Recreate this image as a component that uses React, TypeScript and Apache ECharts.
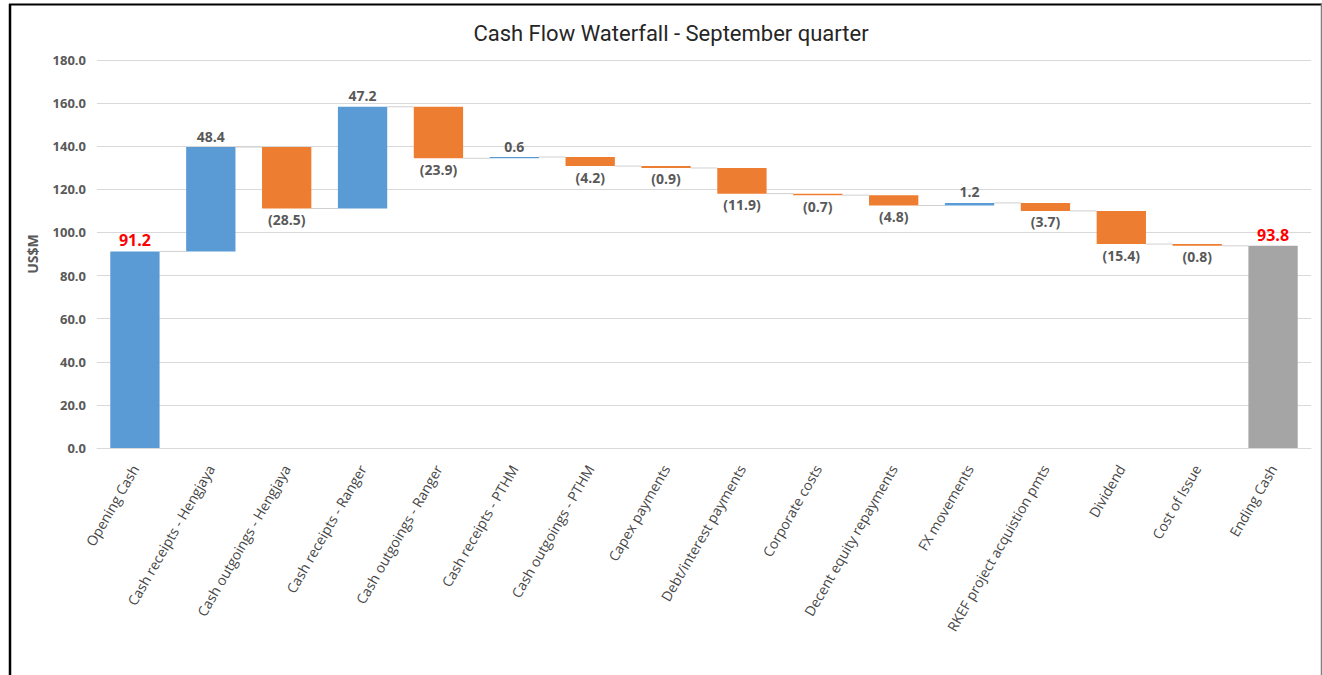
import React, { useEffect, useRef } from "react";
import * as echarts from "echarts";

const categories = [
  "Opening Cash",
  "Cash receipts - Hengjaya",
  "Cash outgoings - Hengjaya",
  "Cash receipts - Ranger",
  "Cash outgoings - Ranger",
  "Cash receipts - PTHM",
  "Cash outgoings - PTHM",
  "Capex payments",
  "Debt/interest payments",
  "Corporate costs",
  "Decent equity repayments",
  "FX movements",
  "RKEF project acquistion pmts",
  "Dividend",
  "Cost of Issue",
  "Ending Cash",
];

const openingCash = 91.2;
const endingCash = 93.8;
const movements = [48.4, -28.5, 47.2, -23.9, 0.6, -4.2, -0.9, -11.9, -0.7, -4.8, 1.2, -3.7, -15.4, -0.8];
const yTicks = { min: 0, max: 180, interval: 20 };

const BLUE = "#5b9bd5";
const ORANGE = "#ed7d31";
const GREY = "#a5a5a5";
const LABEL = "#595959";
const FONT = "'Open Sans', 'Noto Sans', sans-serif";

export default function App() {
  const ref = useRef<HTMLDivElement>(null);

  useEffect(() => {
    if (!ref.current) return;
    const chart = echarts.init(ref.current, undefined, { renderer: "svg" });

    // cumulative levels after each category
    const levels: number[] = [openingCash];
    movements.forEach((m) => levels.push(levels[levels.length - 1] + m));

    const baseData: number[] = [0];
    const barData: any[] = [];
    const totalLabel = (v: number) => ({
      show: true,
      position: "top",
      formatter: v.toFixed(1),
      color: "#ff0000",
      fontSize: 16,
      fontWeight: "bold",
      fontFamily: FONT,
      distance: 3,
    });
    barData.push({ value: openingCash, itemStyle: { color: BLUE }, label: totalLabel(openingCash) });
    movements.forEach((m, i) => {
      const start = levels[i];
      const end = levels[i + 1];
      baseData.push(Math.min(start, end));
      barData.push({
        value: Math.abs(m),
        itemStyle: { color: m >= 0 ? BLUE : ORANGE },
        label: {
          show: true,
          position: m >= 0 ? "top" : "bottom",
          formatter: m >= 0 ? m.toFixed(1) : "(" + Math.abs(m).toFixed(1) + ")",
          color: LABEL,
          fontSize: 14,
          fontWeight: "bold",
          fontFamily: FONT,
          distance: 4,
        },
      });
    });
    baseData.push(0);
    barData.push({ value: endingCash, itemStyle: { color: GREY }, label: totalLabel(endingCash) });

    const connectorData = levels.map((lv, i) => [i, lv]);

    chart.setOption({
      animation: false,
      title: {
        text: "Cash Flow Waterfall - September quarter",
        left: 666,
        textAlign: "center",
        top: 17,
        textStyle: {
          fontFamily: "'Liberation Sans Narrow', 'Roboto', sans-serif",
          fontWeight: "normal",
          fontSize: 22,
          color: "#262626",
        },
      },
      grid: { left: 97, right: 11, top: 60, bottom: 227 },
      xAxis: {
        type: "category",
        data: categories,
        axisLine: { lineStyle: { color: "#d9d9d9", width: 1 } },
        axisTick: { show: false },
        axisLabel: {
          rotate: 60,
          interval: 0,
          margin: 18,
          verticalAlign: "middle",
          color: "#474747",
          fontSize: 14,
          fontWeight: "normal",
          fontFamily: FONT,
        },
      },
      yAxis: {
        type: "value",
        min: yTicks.min,
        max: yTicks.max,
        interval: yTicks.interval,
        name: "US$M",
        nameLocation: "middle",
        nameGap: 58,
        nameRotate: 90,
        nameTextStyle: { color: LABEL, fontSize: 14, fontWeight: "bold", fontFamily: FONT },
        axisLine: { show: false },
        axisTick: { show: false },
        axisLabel: {
          formatter: (v: number) => v.toFixed(1),
          color: LABEL,
          fontSize: 13,
          fontWeight: "bold",
          fontFamily: FONT,
          margin: 11,
        },
        splitLine: { lineStyle: { color: "#d9d9d9", width: 1 } },
      },
      series: [
        {
          type: "custom",
          z: 1,
          silent: true,
          data: connectorData,
          renderItem: (params: any, api: any) => {
            const i = api.value(0);
            const lv = api.value(1);
            const p = api.coord([i, lv]);
            const bw = api.size([1, 0])[0];
            const half = bw * 0.325;
            return {
              type: "line",
              shape: { x1: p[0] + half, y1: p[1], x2: p[0] + bw - half, y2: p[1] },
              style: { stroke: "#d0d0d0", lineWidth: 1 },
            };
          },
        },
        {
          type: "bar",
          stack: "wf",
          barWidth: "65%",
          z: 2,
          silent: true,
          itemStyle: { color: "transparent" },
          data: baseData,
        },
        {
          type: "bar",
          stack: "wf",
          barWidth: "65%",
          z: 3,
          data: barData,
        },
      ],
      graphic: [
        { type: "line", shape: { x1: 9, y1: 4.5, x2: 1322, y2: 4.5 }, style: { stroke: "#000", lineWidth: 2 } },
        { type: "line", shape: { x1: 10, y1: 4, x2: 10, y2: 675 }, style: { stroke: "#000", lineWidth: 2.5 } },
        { type: "line", shape: { x1: 1321.5, y1: 4, x2: 1321.5, y2: 675 }, style: { stroke: "#7f7f7f", lineWidth: 1.5 } },
      ],
    });

    return () => chart.dispose();
  }, []);

  return (
    <div
      ref={ref}
      style={{ position: "fixed", left: 0, top: 0, width: 1322, height: 675, background: "#fff" }}
    />
  );
}
